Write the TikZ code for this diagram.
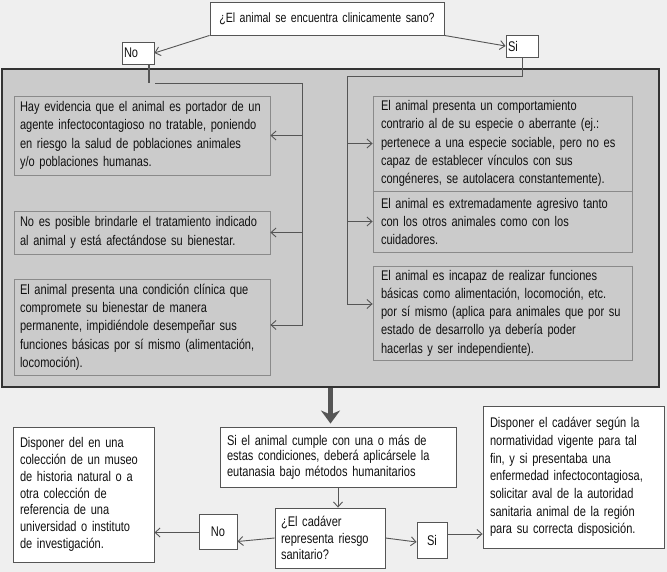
\documentclass[tikz,border=0pt]{standalone}
\usepackage{fontspec}
\setmainfont{Liberation Sans}[FakeStretch=0.79]
\usetikzlibrary{arrows.meta,calc}
\definecolor{bgc}{HTML}{EFEFEF}
\definecolor{panel}{HTML}{CBCBCB}
\definecolor{lnc}{HTML}{555555}
\definecolor{ibord}{HTML}{8A8A8A}
\definecolor{dark}{HTML}{333333}
\definecolor{txt}{HTML}{111111}
\newcommand\fsA{\fontsize{14}{18.3}\selectfont}
\newcommand\fsB{\fontsize{14}{15.6}\selectfont}
\newcommand\fsC{\fontsize{14}{16.8}\selectfont}
\newcommand\fsD{\fontsize{14}{17.7}\selectfont}
\newcommand\fsQ{\fontsize{13.4}{15}\selectfont}
\begin{document}
\begin{tikzpicture}[x=1pt,y=-1pt,
  inbox/.style={draw=ibord, fill=panel, text=txt, line width=0.8pt, inner xsep=6pt, inner ysep=1pt, align=left, font=\fsA, anchor=center},
  wbox/.style={draw=lnc, fill=white, text=txt, line width=0.9pt, inner xsep=5pt, inner ysep=1pt, align=left, anchor=center},
  arr/.style={draw=lnc, line width=0.9pt, -{Straight Barb[length=5pt,width=9pt]}},
  ln/.style={draw=lnc, line width=1.1pt},
  bigarr/.style={draw=lnc, line width=4.5pt, -{Stealth[length=13pt,width=19pt,inset=4pt]}}
]
\fill[bgc] (0,0) rectangle (667,572);
\useasboundingbox (0,0) rectangle (667,572);

% panel
\node[draw=dark, fill=panel, line width=2.5pt, minimum width=657pt, minimum height=318pt, inner sep=0pt] (panel) at (330.5,228) {};

% top
\node[wbox, font=\fsQ, align=center, text width=224pt, minimum height=33pt] (q1) at (327,18.5) {¿El animal se encuentra clinicamente sano?};
\node[wbox, font=\fsA, inner xsep=2pt, text width=28pt, minimum height=22pt] (no) at (138,53) {No};
\node[wbox, font=\fsA, inner xsep=2pt, text width=28pt, minimum height=22pt] (si) at (522,46) {Si};

% left column
\node[inbox, text width=244pt, minimum height=79pt] (b1) at (142,135.5) {Hay evidencia que el animal es portador de un\\agente infectocontagioso no tratable, poniendo\\en riesgo la salud de  poblaciones animales\\y/o poblaciones humanas.};
\node[inbox, text width=244pt, minimum height=43pt] (b2) at (142,232.5) {No es posible brindarle el tratamiento indicado\\al animal y está afectándose su bienestar.};
\node[inbox, text width=244pt, minimum height=96pt] (b3) at (142,327) {El animal presenta una condición clínica que\\compromete su bienestar de manera\\permanente, impidiéndole desempeñar sus\\funciones básicas  por sí mismo (alimentación,\\locomoción).};

% right column
\node[inbox, inner xsep=8pt, text width=243pt, minimum height=95pt] (b4) at (502.5,143.5) {El animal presenta un comportamiento\\contrario al de su especie o aberrante (ej.:\\pertenece a una especie sociable, pero no es\\capaz de establecer vínculos con sus\\congéneres, se autolacera constantemente).};
\node[inbox, inner xsep=8pt, text width=243pt, minimum height=61pt] (b5) at (502.5,221.5) {El animal es extremadamente agresivo tanto\\con los otros animales como con los\\cuidadores.};
\node[inbox, inner xsep=8pt, text width=243pt, minimum height=94pt] (b6) at (502.5,313) {El animal es incapaz de realizar funciones\\básicas como alimentación, locomoción, etc.\\por sí mismo (aplica para animales que  por su\\estado de desarrollo ya debería poder\\hacerlas y ser independiente).};

% bottom
\node[wbox, font=\fsB, inner xsep=7pt, text width=222pt, minimum height=60pt] (cb) at (338,457) {Si el animal cumple con una o más de\\estas condiciones, deberá aplicársele la\\eutanasia bajo métodos humanitarios};
\node[wbox, font=\fsC, inner xsep=6pt, text width=98pt, minimum height=60pt] (q2) at (330,538) {¿El cadáver\\representa riesgo\\sanitario?};
\node[wbox, font=\fsA, align=center, inner xsep=2pt, text width=34pt, minimum height=35pt] (no2) at (218,531.5) {No};
\node[wbox, font=\fsA, align=center, inner xsep=2pt, text width=26pt, minimum height=36pt] (si2) at (432,540) {Si};
\node[wbox, font=\fsC, inner xsep=7pt, text width=127pt, minimum height=135pt] (mu) at (83.5,494.5) {Disponer del en una\\colección de un museo\\de historia natural o a\\otra colección de\\referencia de una\\universidad o instituto\\de investigación.};
\node[wbox, font=\fsD, inner xsep=7pt, text width=167pt, minimum height=142pt] (rb) at (573.5,477) {Disponer el cadáver  según la\\normatividad  vigente para tal\\fin, y si presentaba  una\\enfermedad infectocontagiosa,\\solicitar aval de la autoridad\\sanitaria animal de la región\\para su correcta disposición.\\[5pt]};

% top connectors
\draw[arr] (q1.south west) -- (no.east);
\draw[arr] (q1.south east) -- (si.west);

% left bracket
\coordinate (nstub) at (149,83);
\coordinate (L0) at (155,83);
\coordinate (L1) at (302,83);
\draw[draw=lnc, line width=2.5pt] (no.south -| nstub) -- (nstub);
\draw[arr] (L0) -- (L1) |- ([yshift=2pt]b3.east);
\draw[arr] (L1 |- b1.east) -- (b1.east);
\draw[arr] (L1 |- b2.east) -- (b2.east);

% right bracket
\coordinate (R1) at (522,76);
\coordinate (R2) at (347,76);
\draw[arr] (si.south) -- (R1) -- (R2) |- ([yshift=9pt]b6.west);
\draw[arr] (R2 |- b4.west) -- (b4.west);
\draw[arr] (R2 |- b5.west) -- (b5.west);

% bottom connectors
\draw[bigarr] (panel.south) -- ([yshift=3pt]panel.south |- cb.north);
\draw[arr] (cb.south) -- (cb.south |- q2.north);
\draw[arr] (q2.west) -- ([yshift=-10pt]no2.east);
\draw[arr] ([yshift=-1pt]no2.west) -- ([yshift=-1pt]no2.west -| mu.east);
\draw[arr] (q2.east) -- ([yshift=-2pt]si2.west);
\draw[arr] ([yshift=6pt]si2.east) -- ([yshift=6pt]si2.east -| rb.west);
\end{tikzpicture}
\end{document}
